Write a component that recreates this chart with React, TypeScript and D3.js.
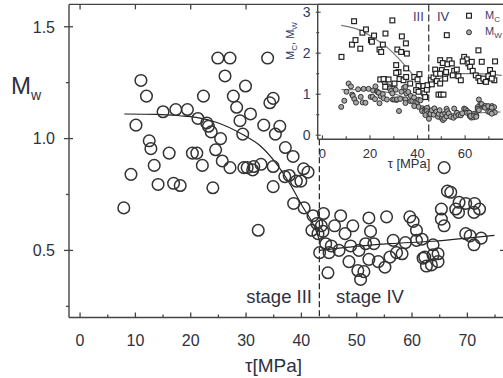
import React from "react";
import * as d3 from "d3";

// ---- Main chart data: M_w vs tau [MPa] ----
const mwTau = [
  7.9, 9.2, 10.1, 11.0, 12.0, 12.5, 12.8, 13.4, 14.1, 15.0, 16.1, 16.9, 17.3, 18.1, 19.4,
  20.3, 21.1, 21.3, 22.1, 22.3, 22.9, 23.2, 23.7, 24.0, 24.5, 24.9, 25.4, 25.7, 26.2, 27.1,
  27.1, 27.7, 28.3, 28.9, 29.4, 29.6, 29.9, 30.2, 30.8, 31.2, 31.4, 32.2, 32.7, 33.2, 33.9,
  34.3, 34.9, 35.3, 36.1, 34.9, 34.9, 37.1, 37.0, 37.8, 38.5, 39.1, 39.9, 40.4, 41.2, 38.6,
  40.5, 42.1, 42.8, 41.9, 43.0,
  43.6, 44.0, 43.9, 44.4, 43.3, 45.0, 44.8, 45.4, 46.0, 46.8, 47.1, 47.9, 48.6, 48.9, 49.3,
  50.2, 50.4, 50.7, 51.3, 51.6, 52.2, 52.2, 52.5, 53.1, 53.9, 55.1, 55.4, 56.0, 56.6, 57.2,
  58.2, 58.8, 59.6, 60.2, 60.8, 60.8, 61.8, 62.0, 62.6, 63.5, 62.3, 63.8, 63.8, 64.7, 64.7,
  65.8, 66.4, 67.0, 65.3, 65.3, 65.8, 67.9, 68.5, 68.4, 69.7, 71.3, 72.2, 71.2, 69.7, 70.5,
  72.5, 71.2,
];
const mwVal = [
  0.69, 0.84, 1.06, 1.26, 1.19, 0.99, 0.955, 0.88, 0.795, 1.12, 0.935, 0.8, 1.13, 0.79, 1.13,
  0.935, 0.935, 1.09, 0.88, 1.19, 1.07, 1.055, 1.03, 0.78, 0.95, 1.36, 1.0, 0.9, 1.28, 1.36,
  0.87, 1.19, 1.14, 1.08, 1.02, 0.87, 1.235, 0.87, 1.11, 0.86, 0.875, 0.59, 0.885, 1.06, 1.36,
  1.16, 1.18, 1.02, 1.055, 0.875, 0.785, 0.96, 0.83, 0.835, 0.92, 0.81, 0.81, 0.865, 0.85, 0.71,
  0.69, 0.655, 0.62, 0.59, 0.575,
  0.61, 0.665, 0.585, 0.53, 0.49, 0.49, 0.4, 0.52, 0.61, 0.5, 0.655, 0.575, 0.45, 0.52, 0.61,
  0.41, 0.5, 0.37, 0.405, 0.53, 0.46, 0.645, 0.585, 0.53, 0.45, 0.425, 0.65, 0.47, 0.545, 0.49,
  0.485, 0.535, 0.65, 0.63, 0.59, 0.545, 0.55, 0.465, 0.43, 0.435, 0.47, 0.525, 0.48, 0.485, 0.45,
  0.87, 0.765, 0.76, 0.685, 0.64, 0.61, 0.685, 0.715, 0.67, 0.71, 0.71, 0.685, 0.67, 0.575, 0.565,
  0.555, 0.525,
];

// Fit curves for M_w
const fitIIITau = [8, 14, 18, 21, 24.6, 29.4, 32.5, 35.4, 37.9, 40.3, 42.4, 43.2];
const fitIIIVal = [1.11, 1.108, 1.102, 1.095, 1.073, 1.018, 0.969, 0.89, 0.798, 0.693, 0.604, 0.55];
const fitIVTau = [43.3, 48.7, 56, 63.8, 74.9];
const fitIVVal = [0.5, 0.515, 0.53, 0.541, 0.567];

// ---- Inset data: M_c (squares) vs tau ----
const mcTau = [
  8.0, 13.3, 12.4, 13.9, 15.9, 16.8, 18.3, 20.4, 20.8, 21.7, 24.0, 24.7, 25.4, 26.5, 29.4,
  31.5, 33.4, 33.1, 35.1, 35.5, 31.0, 32.0, 31.0, 35.2, 24.3, 25.7, 26.4, 27.8, 30.3, 32.4,
  34.1, 35.2, 36.9, 38.6, 40.0, 40.4, 40.8, 39.4, 40.4, 42.5, 42.8, 43.2, 43.9, 44.2, 45.6,
  46.0, 46.7, 47.4, 47.8, 48.1, 48.8, 49.8, 50.9, 49.5, 50.6, 50.2, 49.5, 52.0, 51.6, 49.5,
  52.3, 53.4, 52.6, 54.4, 55.4, 54.8, 56.5, 57.2, 58.2, 59.6, 60.7, 59.0, 61.4, 62.1, 62.8,
  63.2, 65.6, 64.5, 65.6, 66.3, 67.0, 67.7, 68.8, 69.8, 70.5, 71.7, 72.3, 72.6, 71.2,
];
const mcVal = [
  1.91, 2.78, 2.21, 2.32, 2.11, 2.5, 2.58, 2.32, 2.28, 2.43, 2.09, 2.03, 2.21, 2.48, 2.8,
  2.09, 2.41, 2.03, 2.24, 1.99, 1.71, 1.54, 1.52, 1.63, 1.36, 1.37, 1.18, 1.36, 1.26, 1.37,
  1.34, 1.42, 1.26, 1.42, 1.36, 1.2, 1.49, 1.1, 1.06, 1.2, 1.02, 0.93, 1.11, 1.22, 1.34,
  1.24, 1.41, 1.6, 1.5, 1.32, 0.99, 0.99, 0.99, 1.83, 1.76, 1.59, 1.5, 1.54, 1.38, 1.26,
  2.44, 1.83, 1.73, 1.75, 1.57, 1.46, 1.6, 1.44, 1.34, 1.91, 1.85, 1.8, 1.75, 1.67, 1.79,
  1.57, 2.07, 1.46, 1.4, 1.32, 1.79, 1.38, 1.3, 1.44, 1.59, 1.5, 1.34, 1.8, 1.38,
];
const mcFitIIITau = [7.9, 15, 22.9, 28, 32.7, 38.3, 42.5, 44.2];
const mcFitIIIVal = [2.68, 2.58, 2.32, 2.1, 1.83, 1.46, 1.2, 1.1];
const mcFitIVTau = [45.3, 50.9, 57.9, 65, 75.4];
const mcFitIVVal = [1.26, 1.42, 1.5, 1.5, 1.46];

// ---- Ticks ----
const xMajor = [0, 10, 20, 30, 40, 50, 60, 70];
const xMinor = [5, 15, 25, 35, 45, 55, 65, 75];
const yMajor = [0.5, 1.0, 1.5];
const yMinor = [0.25, 0.75, 1.25];
const insetXMajor = [0, 20, 40, 60];
const insetXMinor = [10, 30, 50, 70];
const insetYMajor = [0, 1, 2, 3];
const insetYMinor = [0.5, 1.5, 2.5];
const stageBoundary = 43.25;
const insetBoundary = 44.7;

const FONT = "'Liberation Sans', Arial, Helvetica, sans-serif";
const TXT = "#2e3140";

export default function App() {
  const x = d3.scaleLinear().domain([-2, 77]).range([69, 506.1]);
  const y = d3.scaleLinear().domain([0.2, 1.6]).range([317.5, 4.4]);
  const xi = d3.scaleLinear().domain([-2, 78]).range([317.7, 507.9]);
  const yi = d3.scaleLinear().domain([-0.1, 3.2]).range([139.3, 4]);

  const mainPts = mwTau.map((t, i) => [t, mwVal[i]] as [number, number]);
  const mcPts = mcTau.map((t, i) => [t, mcVal[i]] as [number, number]);

  const lineMain = d3
    .line<[number, number]>()
    .x((d) => x(d[0]))
    .y((d) => y(d[1]))
    .curve(d3.curveMonotoneX);
  const lineInset = d3
    .line<[number, number]>()
    .x((d) => xi(d[0]))
    .y((d) => yi(d[1]))
    .curve(d3.curveMonotoneX);
  const zip = (a: number[], b: number[]) => a.map((v, i) => [v, b[i]] as [number, number]);

  const axisColor = "#444";
  const left = x(-2);
  const bottom = y(0.2);
  const top = y(1.6);
  const right = 504;

  const iLeft = xi(-2);
  const iBottom = yi(-0.1);

  return (
    <svg
      width={503}
      height={378}
      style={{ position: "absolute", left: 0, top: 0, background: "#fff" }}
      fontFamily={FONT}
    >
      <rect x={0} y={0} width={503} height={378} fill="#fff" />

      {/* Main frame */}
      <g stroke={axisColor} strokeWidth={1.4} fill="none">
        <line x1={left} y1={top} x2={left} y2={bottom} />
        <line x1={left} y1={bottom} x2={right} y2={bottom} />
        <line x1={left} y1={top} x2={right} y2={top} />
        <line x1={right} y1={top} x2={right} y2={bottom} />
      </g>

      {/* Main ticks */}
      <g stroke={axisColor} strokeWidth={1.3}>
        {xMajor.map((t) => (
          <line key={"xb" + t} x1={x(t)} x2={x(t)} y1={bottom} y2={bottom - 5} />
        ))}
        {xMinor.map((t) => (
          <line key={"xbm" + t} x1={x(t)} x2={x(t)} y1={bottom} y2={bottom - 3} />
        ))}
        {xMajor.filter((t) => t <= 30).map((t) => (
          <line key={"xt" + t} x1={x(t)} x2={x(t)} y1={top} y2={top + 5} />
        ))}
        {yMajor.map((v) => (
          <line key={"yl" + v} x1={left - 5} x2={left + 4} y1={y(v)} y2={y(v)} />
        ))}
        {yMinor.map((v) => (
          <line key={"ylm" + v} x1={left - 3} x2={left} y1={y(v)} y2={y(v)} />
        ))}
        <line x1={right} x2={right - 4} y1={y(0.5)} y2={y(0.5)} />
      </g>

      {/* Main tick labels */}
      <g fill={TXT} fontSize={16}>
        {xMajor.map((t) => (
          <text key={"xl" + t} x={x(t)} y={346} textAnchor="middle">
            {t}
          </text>
        ))}
        {yMajor.map((v) => (
          <text key={"yl" + v} x={55} y={y(v) + 5.8} textAnchor="end">
            {v.toFixed(1)}
          </text>
        ))}
      </g>

      {/* Axis titles */}
      <text x={11} y={93.5} fill={TXT} fontSize={24}>
        M
        <tspan fontSize={14} dy={6}>
          w
        </tspan>
      </text>
      <text x={273.5} y={372} fill={TXT} fontSize={19} textAnchor="middle">
        τ[MPa]
      </text>

      {/* Stage boundary */}
      <line
        x1={x(stageBoundary)}
        x2={x(stageBoundary)}
        y1={iBottom}
        y2={bottom}
        stroke="#222"
        strokeWidth={1.2}
        strokeDasharray="6,3"
      />
      <text x={312} y={303} fill={TXT} fontSize={18.5} textAnchor="end">
        stage III
      </text>
      <text x={336} y={303} fill={TXT} fontSize={18.5}>
        stage IV
      </text>

      {/* Main fit lines */}
      <path d={lineMain(zip(fitIIITau, fitIIIVal)) || ""} fill="none" stroke="#222" strokeWidth={1.2} />
      <path d={lineMain(zip(fitIVTau, fitIVVal)) || ""} fill="none" stroke="#222" strokeWidth={1.2} />

      {/* Main points */}
      <g fill="none" stroke="#333" strokeWidth={1.5}>
        {mainPts.map((d, i) => (
          <circle key={"p" + i} cx={x(d[0])} cy={y(d[1])} r={5.8} />
        ))}
      </g>

      {/* ---- Inset ---- */}
      <rect x={iLeft} y={top} width={right - iLeft} height={iBottom - top} fill="#fff" />
      <g stroke={axisColor} strokeWidth={1.4}>
        <line x1={iLeft} y1={top} x2={iLeft} y2={iBottom} />
        <line x1={iLeft} y1={iBottom} x2={right} y2={iBottom} />
        <line x1={iLeft} y1={top} x2={right} y2={top} />
      </g>
      <g stroke={axisColor} strokeWidth={1.1}>
        {insetXMajor.map((t) => (
          <line key={"ix" + t} x1={xi(t)} x2={xi(t)} y1={iBottom} y2={iBottom - 4} />
        ))}
        {insetXMinor.map((t) => (
          <line key={"ixm" + t} x1={xi(t)} x2={xi(t)} y1={iBottom} y2={iBottom - 3} />
        ))}
        {insetYMajor.map((v) => (
          <line key={"iy" + v} x1={iLeft - 2} x2={iLeft + 3} y1={yi(v)} y2={yi(v)} />
        ))}
        {insetYMinor.map((v) => (
          <line key={"iym" + v} x1={iLeft - 1.5} x2={iLeft + 1.5} y1={yi(v)} y2={yi(v)} />
        ))}
      </g>
      <g fill={TXT} fontSize={13}>
        {insetXMajor.map((t) => (
          <text key={"ixl" + t} x={xi(t)} y={158} textAnchor="middle">
            {t}
          </text>
        ))}
      </g>
      <g fill="#2d3d66" fontSize={14}>
        {insetYMajor.map((v) => (
          <text key={"iyl" + v} x={310.5} y={yi(v) + 5} textAnchor="end">
            {v}
          </text>
        ))}
      </g>
      <text x={409} y={168} fill={TXT} fontSize={13} textAnchor="middle">
        τ [MPa]
      </text>
      <text
        transform="translate(294,41) rotate(-90)"
        fill="#2d3d66"
        fontSize={11}
        textAnchor="middle"
      >
        M
        <tspan fontSize={8} dy={3}>
          C
        </tspan>
        <tspan dy={-3}>, M</tspan>
        <tspan fontSize={8} dy={3}>
          W
        </tspan>
      </text>

      {/* inset boundary */}
      <line
        x1={xi(insetBoundary)}
        x2={xi(insetBoundary)}
        y1={top}
        y2={iBottom}
        stroke="#333"
        strokeWidth={1.2}
        strokeDasharray="7,3"
      />
      <text x={413} y={21} fill="#4a3a78" fontSize={13}>
        III
      </text>
      <text x={437} y={21} fill="#3a3a70" fontSize={13}>
        IV
      </text>

      {/* inset fit lines */}
      <g fill="none" stroke="#777" strokeWidth={1.2}>
        <path d={lineInset(zip(mcFitIIITau, mcFitIIIVal)) || ""} />
        <path d={lineInset(zip(mcFitIVTau, mcFitIVVal)) || ""} />
        <path d={lineInset(zip(fitIIITau, fitIIIVal)) || ""} />
        <path d={lineInset(zip(fitIVTau, fitIVVal)) || ""} />
      </g>

      {/* inset M_w circles */}
      <g fill="#a8a8a8" stroke="#333" strokeWidth={1}>
        {mainPts.map((d, i) => (
          <circle key={"ic" + i} cx={xi(d[0])} cy={yi(d[1])} r={2.5} />
        ))}
      </g>
      {/* inset M_c squares */}
      <g fill="#fff" stroke="#222" strokeWidth={1.2}>
        {mcPts.map((d, i) => (
          <rect key={"is" + i} x={xi(d[0]) - 2.4} y={yi(d[1]) - 2.4} width={4.8} height={4.8} />
        ))}
      </g>

      {/* inset legend */}
      <rect x={466.6} y={13.3} width={4.8} height={4.8} fill="#fff" stroke="#222" strokeWidth={1.2} />
      <circle cx={469} cy={32.3} r={2.5} fill="#a8a8a8" stroke="#333" strokeWidth={1} />
      <text x={485} y={19} fill="#4a3a60" fontSize={11}>
        M
        <tspan fontSize={8} dy={2.5}>
          C
        </tspan>
      </text>
      <text x={485} y={35} fill="#4a3a60" fontSize={11}>
        M
        <tspan fontSize={8} dy={2.5}>
          W
        </tspan>
      </text>
    </svg>
  );
}
